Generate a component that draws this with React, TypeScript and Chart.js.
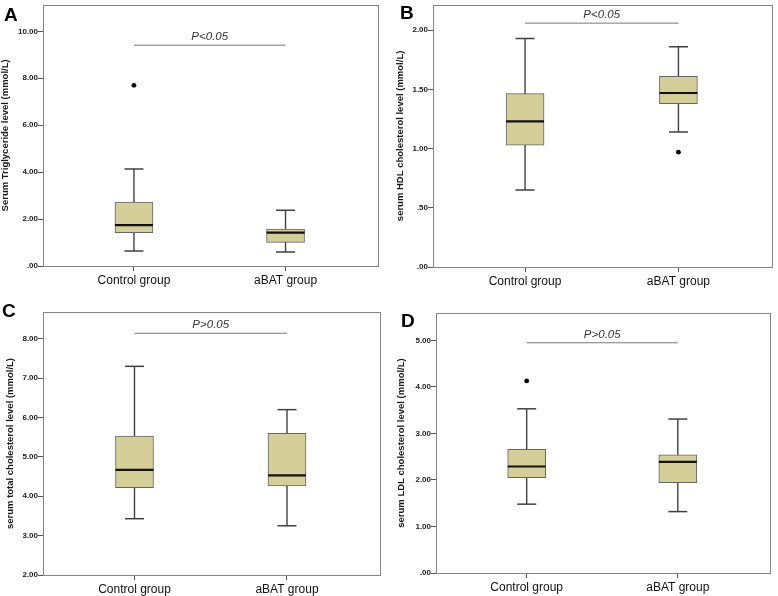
import React, { useEffect, useRef } from 'react';
import { Chart, registerables } from 'chart.js';

Chart.register(...registerables);

const FONT = '"Liberation Sans", Arial, Helvetica, sans-serif';

const categories = ['Control group', 'aBAT group'];
const groupX = [1, 2];

// Each group: [lower whisker, Q1, median, Q3, upper whisker]
// A: Triglyceride
const tgControl = [0.64, 1.42, 1.74, 2.72, 4.13];
const tgABAT = [0.6, 1.01, 1.42, 1.57, 2.38];
const tgOutliers = [[7.7], []];
const tgTicks = [0, 2, 4, 6, 8, 10];
const tgSig = 9.41;
const tgP = 'P<0.05';

// B: HDL cholesterol
const hdlControl = [0.65, 1.03, 1.23, 1.465, 1.93];
const hdlABAT = [1.14, 1.38, 1.47, 1.61, 1.86];
const hdlOutliers = [[], [0.97]];
const hdlTicks = [0, 0.5, 1, 1.5, 2];
const hdlSig = 2.06;
const hdlP = 'P<0.05';

// C: total cholesterol
const tcControl = [3.43, 4.22, 4.67, 5.53, 7.3];
const tcABAT = [3.25, 4.26, 4.53, 5.6, 6.2];
const tcOutliers: number[][] = [[], []];
const tcTicks = [2, 3, 4, 5, 6, 7, 8];
const tcSig = 8.14;
const tcP = 'P>0.05';

// D: LDL cholesterol
const ldlControl = [1.48, 2.05, 2.29, 2.66, 3.53];
const ldlABAT = [1.32, 1.94, 2.39, 2.54, 3.31];
const ldlOutliers = [[4.13], []];
const ldlTicks = [0, 1, 2, 3, 4, 5];
const ldlSig = 4.95;
const ldlP = 'P>0.05';

type PanelCfg = {
  letter: string;
  title: string;
  boxes: number[][];
  outliers: number[][];
  ticks: number[];
  yMin: number;
  yMax: number;
  sig: number;
  pText: string;
  left: number;
  top: number;
  letterX: number;
  letterY: number;
  padT: number;
  padR: number;
  yW: number;
  xH: number;
  titlePad: number;
};

const panels: PanelCfg[] = [
  {
    letter: 'A', title: 'Serum Triglyceride level (mmol/L)', boxes: [tgControl, tgABAT], outliers: tgOutliers,
    ticks: tgTicks, yMin: 0, yMax: 11.13, sig: tgSig, pText: tgP,
    left: 0, top: 0, letterX: 4, letterY: 5, padT: 3, padR: 11, yW: 43, xH: 32, titlePad: 0,
  },
  {
    letter: 'B', title: 'serum HDL cholesterol level (mmol/L)', boxes: [hdlControl, hdlABAT], outliers: hdlOutliers,
    ticks: hdlTicks, yMin: 0, yMax: 2.215, sig: hdlSig, pText: hdlP,
    left: 389, top: 0, letterX: 400, letterY: 2.5, padT: 3, padR: 6, yW: 44, xH: 31, titlePad: 6,
  },
  {
    letter: 'C', title: 'serum total cholesterol level (mmol/L)', boxes: [tcControl, tcABAT], outliers: tcOutliers,
    ticks: tcTicks, yMin: 2, yMax: 8.68, sig: tcSig, pText: tcP,
    left: 0, top: 298, letterX: 2, letterY: 301, padT: 14, padR: 9, yW: 43, xH: 21, titlePad: 5,
  },
  {
    letter: 'D', title: 'serum LDL cholesterol level (mmol/L)', boxes: [ldlControl, ldlABAT], outliers: ldlOutliers,
    ticks: ldlTicks, yMin: 0, yMax: 5.59, sig: ldlSig, pText: ldlP,
    left: 389, top: 298, letterX: 401, letterY: 310.5, padT: 15, padR: 8, yW: 47, xH: 23, titlePad: 7,
  },
];

const fmt = (v: number) => Number(v).toFixed(2).replace(/^0\./, '.');

const framePlugin = {
  id: 'frame',
  beforeDatasetsDraw(chart: any) {
    const { ctx, chartArea } = chart;
    const { left, top, right, bottom } = chartArea;
    ctx.save();
    ctx.strokeStyle = '#858585';
    ctx.lineWidth = 1;
    ctx.strokeRect(Math.round(left) + 0.5, Math.round(top) + 0.5, Math.round(right - left), Math.round(bottom - top));
    ctx.restore();
  },
};

function Panel({ cfg }: { cfg: PanelCfg }) {
  const ref = useRef<HTMLCanvasElement | null>(null);
  useEffect(() => {
    if (!ref.current) return;
    const boxes = cfg.boxes;
    const pPlugin = {
      id: 'ptext',
      afterDatasetsDraw(chart: any) {
        const { ctx } = chart;
        const x = chart.scales.x.getPixelForValue((groupX[0] + groupX[1]) / 2);
        const y = chart.scales.y.getPixelForValue(cfg.sig) - 5;
        ctx.save();
        ctx.font = `italic 11.5px ${FONT}`;
        ctx.fillStyle = '#333';
        ctx.textAlign = 'center';
        ctx.textBaseline = 'alphabetic';
        ctx.fillText(cfg.pText, x, y);
        ctx.restore();
      },
    };
    const datasets: any[] = [
      {
        type: 'scatter', label: 'median',
        data: boxes.map((b, i) => ({ x: groupX[i], y: b[2] })),
        pointStyle: 'line', pointRadius: 19, borderWidth: 2.2, borderColor: '#111', order: 0,
      },
      {
        type: 'scatter', label: 'outliers',
        data: cfg.outliers.flatMap((arr, i) => arr.map((v) => ({ x: groupX[i], y: v }))),
        pointStyle: 'circle', pointRadius: 2.4, backgroundColor: '#000', borderWidth: 0, order: 0,
      },
      {
        type: 'scatter', label: 'caps',
        data: boxes.flatMap((b, i) => [{ x: groupX[i], y: b[0] }, { x: groupX[i], y: b[4] }]),
        pointStyle: 'line', pointRadius: 9.5, borderWidth: 1.5, borderColor: '#404040', order: 0,
      },
      {
        type: 'bar', label: 'IQR',
        data: boxes.map((b, i) => ({ x: groupX[i], y: [b[1], b[3]] })),
        backgroundColor: '#d4ce99', borderColor: '#666', borderWidth: 1, borderSkipped: false,
        barThickness: 38, order: 1,
      },
      ...boxes.map((b, i) => ({
        type: 'line', label: 'whisker' + i,
        data: [{ x: groupX[i], y: b[0] }, { x: groupX[i], y: b[4] }],
        borderColor: '#404040', borderWidth: 1.4, pointRadius: 0, order: 2,
      })),
      {
        type: 'line', label: 'sig',
        data: [{ x: groupX[0], y: cfg.sig }, { x: groupX[1], y: cfg.sig }],
        borderColor: '#7a7a7a', borderWidth: 1, pointRadius: 0, order: 0,
      },
    ];
    const chart = new Chart(ref.current, {
      type: 'bar',
      data: { datasets },
      options: {
        animation: false,
        responsive: false,
        events: [],
        layout: { autoPadding: false, padding: { left: 0, top: cfg.padT, right: cfg.padR, bottom: 0 } },
        plugins: { legend: { display: false }, tooltip: { enabled: false } },
        scales: {
          x: {
            type: 'linear', min: 0.4, max: 2.61, offset: false,
            afterBuildTicks: (s: any) => { s.ticks = groupX.map((v) => ({ value: v })); },
            afterFit: (s: any) => { s.height = cfg.xH; },
            ticks: {
              callback: (_v: any, i: number) => categories[i],
              font: { family: FONT, size: 12 }, color: '#111', padding: 2,
              maxRotation: 0, autoSkip: false,
            },
            grid: { offset: false, drawOnChartArea: false, drawTicks: true, tickLength: 5, color: '#555' },
            border: { display: false },
          },
          y: {
            type: 'linear', min: cfg.yMin, max: cfg.yMax,
            afterBuildTicks: (s: any) => { s.ticks = cfg.ticks.map((v) => ({ value: v })); },
            afterFit: (s: any) => { s.width = cfg.yW; },
            ticks: {
              callback: (v: any) => fmt(v),
              font: { family: FONT, size: 8, weight: 'bold' }, color: '#222', padding: 0,
            },
            grid: { drawOnChartArea: false, drawTicks: true, tickLength: 5, color: '#555' },
            border: { display: false },
            title: {
              display: true, text: cfg.title,
              font: { family: FONT, size: 9.5, weight: 'bold' }, color: '#1a1a1a',
              padding: { top: cfg.titlePad, bottom: 0 },
            },
          },
        },
      } as any,
      plugins: [framePlugin, pPlugin],
    } as any);
    return () => chart.destroy();
  }, [cfg]);
  return (
    <div style={{ position: 'absolute', left: cfg.left, top: cfg.top, width: 389, height: 298 }}>
      <canvas ref={ref} width={389} height={298} style={{ display: 'block', width: 389, height: 298 }} />
    </div>
  );
}

export default function App() {
  return (
    <div style={{ position: 'absolute', left: 0, top: 0, width: 778, height: 596, background: '#fff', overflow: 'hidden' }}>
      {panels.map((p) => (
        <Panel key={p.letter} cfg={p} />
      ))}
      {panels.map((p) => (
        <div
          key={'l' + p.letter}
          style={{
            position: 'absolute', left: p.letterX, top: p.letterY, fontFamily: FONT,
            fontWeight: 'bold', fontSize: 19, lineHeight: '19px', color: '#000',
          }}
        >
          {p.letter}
        </div>
      ))}
    </div>
  );
}
